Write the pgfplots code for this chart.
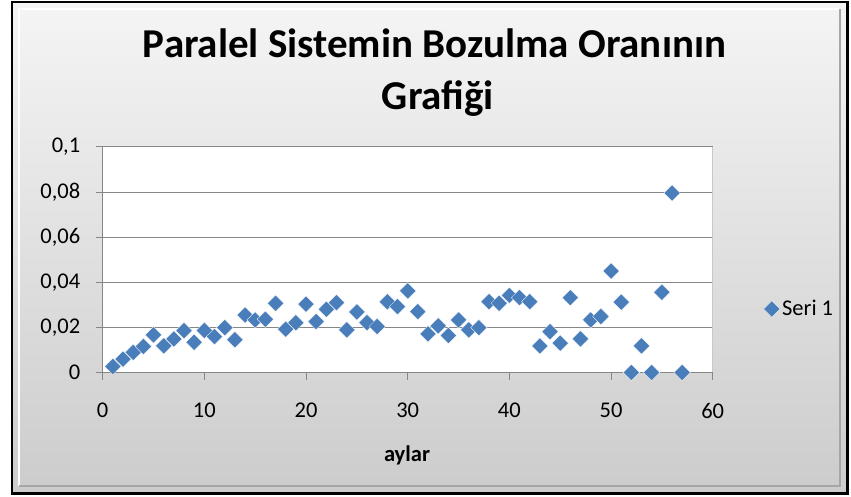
\documentclass[border=0pt]{standalone}
\usepackage{pgfplots}
\pgfplotsset{compat=1.18}
\usepackage{fontspec}
\setmainfont{Carlito}
\definecolor{mkblue}{HTML}{4A7EBB}
\definecolor{gridgray}{HTML}{868686}
\begin{document}
\begin{tikzpicture}
\fill[white] (0,0) rectangle (851bp,497bp);
\shade[top color=white!96!black, bottom color=white!80!black] (12bp,3.5bp) rectangle (847bp,495bp);
% bevel
\draw[white, line width=1.5bp] (19bp,11bp) -- (19bp,488bp) -- (840bp,488bp);
\draw[white!65!black, line width=1.5bp] (19bp,11bp) -- (840bp,11bp) -- (840bp,488bp);
\draw[black, line width=2.5bp] (12bp,3.5bp) rectangle (847.5bp,495bp);
\begin{axis}[
  at={(102.7bp,124.5bp)}, anchor=south west,
  scale only axis, width=610bp, height=225.5bp,
  xmin=0, xmax=60, ymin=0, ymax=0.1,
  xtick={0,10,20,30,40,50,60},
  ytick={0,0.02,0.04,0.06,0.08,0.1},
  scaled y ticks=false,
  yticklabel style={xshift=-12bp, /pgf/number format/.cd, use comma, fixed, precision=2},
  xticklabel style={yshift=-20bp},
  axis lines*=left,
  axis line style={gridgray, line width=1bp},
  tick style={gridgray, line width=1bp},
  tick align=outside, major tick length=7bp,
  ymajorgrids, grid style={gridgray, line width=1bp},
  axis background/.style={fill=white},
  tick label style={font=\fontsize{22.5bp}{27bp}\selectfont, black},
  /pgf/number format/assume math mode=true,
  xlabel={aylar},
  xlabel style={font=\bfseries\fontsize{22.5bp}{27bp}\selectfont, at={(axis description cs:0.4989,-0.3925)}, anchor=base},
  legend style={draw=none, fill=none, at={(1.0784,0.2816)}, anchor=west, font=\fontsize{22.5bp}{27bp}\selectfont},
  clip=false,
]
\addplot[only marks, mark=square*, mark size=5.8bp, mark options={rotate=45, fill=mkblue, draw=white, line width=0.3bp}] coordinates {
(1,0.0027) (2,0.0059) (3,0.0089) (4,0.0115) (5,0.0167) (6,0.0118) (7,0.0149) (8,0.0186) (9,0.0134) (10,0.0186)
(11,0.0159) (12,0.0199) (13,0.0145) (14,0.0255) (15,0.0233) (16,0.0236) (17,0.0307) (18,0.0192) (19,0.0221) (20,0.0303)
(21,0.0226) (22,0.0280) (23,0.0310) (24,0.0189) (25,0.0268) (26,0.0221) (27,0.0204) (28,0.0314) (29,0.0292) (30,0.0362)
(31,0.0270) (32,0.0171) (33,0.0207) (34,0.0164) (35,0.0233) (36,0.0189) (37,0.0199) (38,0.0314) (39,0.0307) (40,0.0342)
(41,0.0332) (42,0.0314) (43,0.0118) (44,0.0181) (45,0.0130) (46,0.0332) (47,0.0149) (48,0.0233) (49,0.0248) (50,0.0450)
(51,0.0312) (52,0) (53,0.0118) (54,0) (55,0.0356) (56,0.0796) (57,0)
};
\addlegendentry{Seri 1}
\draw[gridgray!45, line width=1bp] (rel axis cs:1,0) -- (rel axis cs:1,1);
\end{axis}
\node[anchor=base, font=\bfseries\fontsize{41bp}{50bp}\selectfont] at (434.5bp,439bp) {Paralel Sistemin Bozulma Oranının};
\node[anchor=base, font=\bfseries\fontsize{41bp}{50bp}\selectfont] at (438bp,387bp) {Grafiği};
\end{tikzpicture}
\end{document}
